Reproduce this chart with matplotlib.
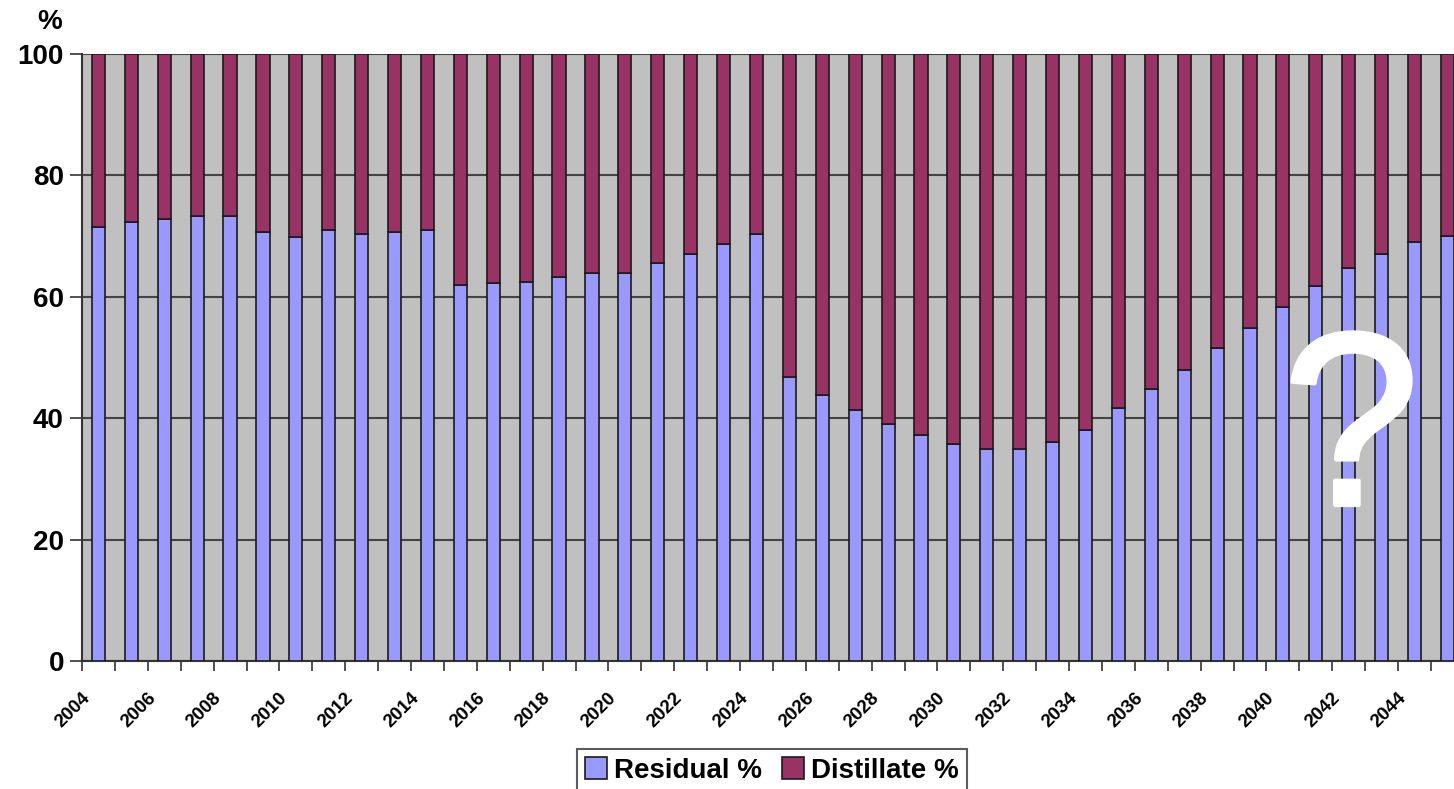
import matplotlib.pyplot as plt
import matplotlib.transforms as mtransforms
import matplotlib.patheffects as pe
import numpy as np

plt.rcParams['font.family'] = ['Liberation Sans', 'DejaVu Sans']

# years shown on the category axis
years = list(range(2004, 2046))

# residual share of the barrel
residual = [71.5, 72.3, 72.8, 73.3, 73.3, 70.6, 69.8, 71.0, 70.3, 70.6,
            71.0, 62.0, 62.2, 62.5, 63.2, 64.0, 64.0, 65.6, 67.0, 68.7,
            70.3, 46.8, 43.8, 41.3, 39.0, 37.2, 35.8, 35.0, 35.0, 36.0,
            38.0, 41.6, 44.8, 48.0, 51.6, 54.8, 58.3, 61.7, 64.8, 67.0,
            69.0, 70.0]
# distillate is the rest up to 100
distillate = [100 - r for r in residual]

fig = plt.figure(figsize=(14.54, 7.89), dpi=100)
ax = fig.add_axes([82 / 1454, 1 - 661 / 789, 1 - 82 / 1454, (661 - 54) / 789])
ax.set_facecolor('#C0C0C0')

x = np.arange(len(years))
ax.bar(x, residual, width=0.4, color='#9999FF', edgecolor='#1a1a1a',
       linewidth=1.2, label='Residual %', zorder=3)
ax.bar(x, distillate, width=0.4, bottom=residual, color='#993366',
       edgecolor='#1a1a1a', linewidth=1.2, label='Distillate %', zorder=3)

ax.set_xlim(-0.5, 41.2)
ax.set_ylim(0, 100)

# y axis
ax.set_yticks([0, 20, 40, 60, 80, 100])
ax.set_yticklabels(['0', '20', '40', '60', '80', '100'], fontsize=20, fontweight='bold')
ax.tick_params(axis='y', length=9, width=1.2, color='#333333', pad=4)
ax.grid(axis='y', color='#444444', linewidth=1.5, zorder=1)

# x axis: tick marks between categories, labels every second year
ax.set_xticks(x - 0.5)
ax.set_xticklabels([])
ax.tick_params(axis='x', which='major', length=7, width=1.2, color='#333333')
ax.set_xticks(x[::2], minor=True)
ax.set_xticklabels([str(y) for y in years[::2]], minor=True, rotation=45,
                   ha='right', va='center', rotation_mode='anchor',
                   fontsize=13.5, fontweight='bold')
ax.tick_params(axis='x', which='minor', length=0, pad=0)
offset = mtransforms.ScaledTranslation(-0.11, -0.34, fig.dpi_scale_trans)
for lbl in ax.get_xticklabels(minor=True):
    lbl.set_transform(lbl.get_transform() + offset)

for side in ['top', 'right']:
    ax.spines[side].set_visible(False)
for side in ['left', 'bottom']:
    ax.spines[side].set_color('#333333')
    ax.spines[side].set_linewidth(1.5)

fig.text(50 / 1454, 1 - 22 / 789, '%', fontsize=20, fontweight='bold',
         ha='center', va='center')

# big white question mark over the projection (stroke makes it a bit heavier)
fig.text(1351 / 1454, 1 - 505 / 789, '?', fontsize=178, color='white',
         ha='center', va='baseline', zorder=10,
         path_effects=[pe.Stroke(linewidth=3, foreground='white'), pe.Normal()])

leg = fig.legend(loc='upper center', bbox_to_anchor=(772 / 1454, 1 - 749 / 789),
                 ncol=2, frameon=True, fancybox=False, edgecolor='#333333',
                 prop={'size': 20, 'weight': 'bold'}, handlelength=0.8,
                 handleheight=0.8, handletextpad=0.25, columnspacing=0.7,
                 borderpad=0.3, borderaxespad=0)
leg.get_frame().set_linewidth(1.5)

fig.savefig('out.png', dpi=100)
